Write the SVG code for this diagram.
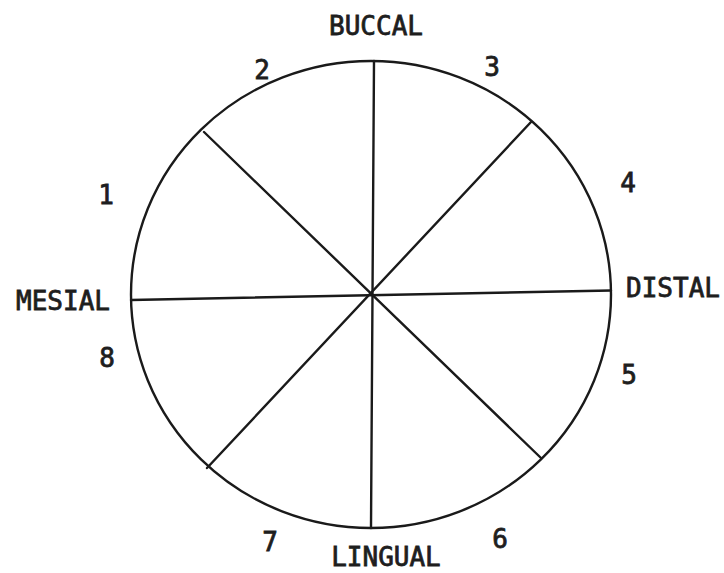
<svg xmlns="http://www.w3.org/2000/svg" width="724" height="573" viewBox="0 0 724 573">
<style>
.ln{stroke:#1a1a1a;stroke-width:2.4;fill:none;stroke-linecap:round}
.t{font-family:"DejaVu Sans Mono","Liberation Mono",monospace;font-size:26px;fill:#1e1e1e;stroke:#1e1e1e;stroke-width:0.8;text-anchor:middle}
</style>
<rect width="724" height="573" fill="#fff"/>
<g id="circle"><ellipse class="ln" cx="371" cy="294.5" rx="240" ry="233.5"/></g>
<g id="connectors">
<line class="ln" x1="374" y1="61" x2="371" y2="528"/>
<line class="ln" x1="131" y1="300" x2="611" y2="290.5"/>
<line class="ln" x1="204" y1="132" x2="541" y2="458"/>
<line class="ln" x1="531" y1="122" x2="207" y2="468"/>
</g>
<g id="labels">
<text class="t" x="376" y="35">BUCCAL</text>
<text class="t" x="63" y="310">MESIAL</text>
<text class="t" x="673" y="297">DISTAL</text>
<text class="t" x="386" y="566">LINGUAL</text>
</g>
<g id="numbers">
<text class="t" x="262" y="79">2</text>
<text class="t" x="492" y="76">3</text>
<text class="t" x="628" y="192">4</text>
<text class="t" x="106" y="204">1</text>
<text class="t" x="107" y="367">8</text>
<text class="t" x="629" y="384">5</text>
<text class="t" x="270" y="551">7</text>
<text class="t" x="500" y="548">6</text>
</g>
</svg>
